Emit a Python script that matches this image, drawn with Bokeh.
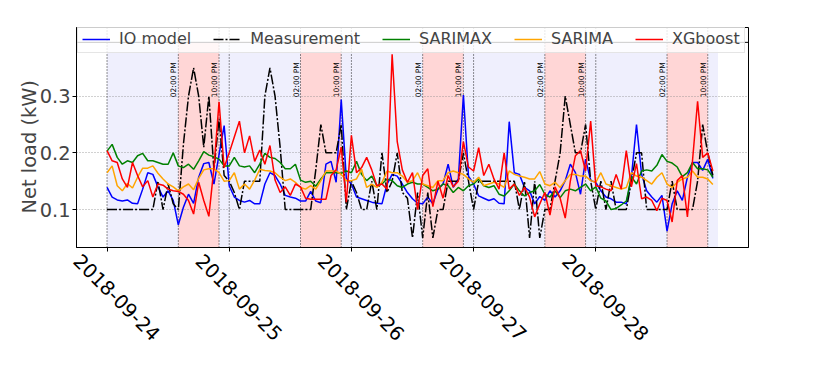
import math
import pandas as pd
from bokeh.plotting import figure
from bokeh.models import (Range1d, FixedTicker, Span, BoxAnnotation, Label,
                          Legend, LegendItem, ColumnDataSource, Grid, DatetimeAxis)
from bokeh.embed import file_html
from bokeh.resources import INLINE

# ---------------- data ----------------
start_time = "2018-09-24 00:00"
n_days = 5
day_labels = ["2018-09-24", "2018-09-25", "2018-09-26", "2018-09-27", "2018-09-28"]
peak_start_hour = 14
peak_end_hour = 22
peak_start_text = "02:00 PM"
peak_end_text = "10:00 PM"
y_ticks = [0.1, 0.2, 0.3]
y_title = "Net load (kW)"

io_model = [
    0.139, 0.122, 0.117, 0.115, 0.117, 0.111, 0.110, 0.136, 0.165, 0.162, 0.140, 0.122,
    0.133, 0.116, 0.073, 0.104, 0.127, 0.111, 0.157, 0.181, 0.183, 0.145, 0.197, 0.248,
    0.142, 0.122, 0.116, 0.113, 0.116, 0.110, 0.110, 0.145, 0.165, 0.160, 0.145, 0.125,
    0.122, 0.120, 0.115, 0.115, 0.132, 0.115, 0.112, 0.180, 0.185, 0.148, 0.294, 0.155,
    0.145, 0.122, 0.119, 0.116, 0.113, 0.111, 0.110, 0.145, 0.162, 0.159, 0.145, 0.130,
    0.119, 0.111, 0.110, 0.122, 0.110, 0.136, 0.145, 0.180, 0.139, 0.154, 0.302, 0.159,
    0.145, 0.124, 0.120, 0.116, 0.119, 0.111, 0.110, 0.255, 0.165, 0.162, 0.139, 0.133,
    0.110, 0.123, 0.116, 0.133, 0.122, 0.133, 0.151, 0.180, 0.165, 0.127, 0.189, 0.151,
    0.148, 0.133, 0.122, 0.119, 0.113, 0.113, 0.110, 0.157, 0.250, 0.162, 0.133, 0.122,
    0.113, 0.125, 0.062, 0.110, 0.133, 0.116, 0.157, 0.183, 0.183, 0.169, 0.189, 0.155,
]
measurement = [
    0.10, 0.10, 0.10, 0.10, 0.10, 0.10, 0.10, 0.10, 0.10, 0.10, 0.15, 0.10,
    0.145, 0.11, 0.10, 0.215, 0.30, 0.35, 0.30, 0.21, 0.30, 0.17, 0.26, 0.16,
    0.15, 0.13, 0.10, 0.15, 0.15, 0.15, 0.15, 0.30, 0.35, 0.30, 0.21, 0.10,
    0.10, 0.10, 0.10, 0.10, 0.10, 0.17, 0.25, 0.20, 0.20, 0.20, 0.25, 0.10,
    0.15, 0.13, 0.10, 0.10, 0.15, 0.10, 0.20, 0.13, 0.15, 0.20, 0.13, 0.12,
    0.05, 0.13, 0.05, 0.13, 0.05, 0.10, 0.10, 0.15, 0.15, 0.15, 0.20, 0.15,
    0.10, 0.15, 0.15, 0.15, 0.15, 0.15, 0.15, 0.15, 0.15, 0.10, 0.15, 0.05,
    0.15, 0.05, 0.10, 0.10, 0.15, 0.20, 0.30, 0.25, 0.20, 0.20, 0.25, 0.15,
    0.10, 0.15, 0.10, 0.15, 0.10, 0.10, 0.10, 0.15, 0.20, 0.20, 0.10, 0.10,
    0.10, 0.10, 0.10, 0.15, 0.10, 0.10, 0.10, 0.10, 0.15, 0.25, 0.20, 0.16,
]
sarimax = [
    0.203, 0.215, 0.192, 0.180, 0.186, 0.183, 0.195, 0.199, 0.186, 0.186, 0.183, 0.180,
    0.180, 0.200, 0.177, 0.174, 0.180, 0.171, 0.186, 0.202, 0.196, 0.193, 0.189, 0.177,
    0.177, 0.192, 0.177, 0.175, 0.177, 0.165, 0.180, 0.199, 0.192, 0.190, 0.183, 0.172,
    0.172, 0.180, 0.152, 0.148, 0.150, 0.141, 0.154, 0.165, 0.165, 0.165, 0.164, 0.168,
    0.165, 0.185, 0.162, 0.151, 0.159, 0.142, 0.145, 0.154, 0.151, 0.142, 0.139, 0.145,
    0.148, 0.145, 0.145, 0.139, 0.133, 0.136, 0.145, 0.142, 0.130, 0.139, 0.133, 0.142,
    0.145, 0.154, 0.142, 0.139, 0.142, 0.127, 0.124, 0.133, 0.145, 0.133, 0.124, 0.130,
    0.133, 0.144, 0.127, 0.122, 0.133, 0.121, 0.133, 0.136, 0.133, 0.139, 0.145, 0.133,
    0.140, 0.120, 0.115, 0.100, 0.102, 0.108, 0.115, 0.158, 0.145, 0.168, 0.170, 0.168,
    0.178, 0.197, 0.185, 0.182, 0.175, 0.158, 0.165, 0.183, 0.172, 0.172, 0.170, 0.157,
]
sarima = [
    0.165, 0.177, 0.142, 0.133, 0.146, 0.138, 0.157, 0.173, 0.173, 0.177, 0.164, 0.154,
    0.145, 0.140, 0.133, 0.140, 0.145, 0.135, 0.155, 0.170, 0.172, 0.172, 0.165, 0.150,
    0.151, 0.165, 0.136, 0.145, 0.136, 0.152, 0.171, 0.169, 0.168, 0.165, 0.157, 0.151,
    0.154, 0.148, 0.139, 0.136, 0.142, 0.136, 0.151, 0.168, 0.168, 0.168, 0.162, 0.151,
    0.151, 0.154, 0.171, 0.139, 0.145, 0.139, 0.148, 0.168, 0.165, 0.165, 0.159, 0.148,
    0.151, 0.165, 0.145, 0.142, 0.139, 0.151, 0.151, 0.165, 0.168, 0.165, 0.162, 0.154,
    0.148, 0.157, 0.142, 0.145, 0.148, 0.145, 0.139, 0.168, 0.162, 0.159, 0.157, 0.154,
    0.154, 0.167, 0.145, 0.142, 0.148, 0.139, 0.151, 0.162, 0.162, 0.159, 0.159, 0.151,
    0.148, 0.165, 0.145, 0.142, 0.139, 0.136, 0.139, 0.165, 0.159, 0.157, 0.151, 0.145,
    0.157, 0.165, 0.145, 0.139, 0.148, 0.154, 0.157, 0.168, 0.157, 0.157, 0.154, 0.144,
]
xgboost = [
    0.204, 0.186, 0.183, 0.154, 0.139, 0.183, 0.160, 0.140, 0.151, 0.122, 0.145, 0.143,
    0.136, 0.133, 0.132, 0.127, 0.116, 0.092, 0.148, 0.116, 0.088, 0.174, 0.290, 0.174,
    0.200, 0.228, 0.256, 0.200, 0.230, 0.185, 0.205, 0.180, 0.213, 0.152, 0.130, 0.140,
    0.125, 0.145, 0.140, 0.120, 0.118, 0.118, 0.118, 0.118, 0.160, 0.170, 0.210, 0.113,
    0.231, 0.165, 0.174, 0.192, 0.170, 0.142, 0.145, 0.136, 0.374, 0.220, 0.170, 0.148,
    0.165, 0.100, 0.160, 0.172, 0.105, 0.150, 0.120, 0.160, 0.140, 0.150, 0.220, 0.175,
    0.168, 0.209, 0.160, 0.180, 0.154, 0.136, 0.200, 0.136, 0.145, 0.125, 0.139, 0.122,
    0.087, 0.110, 0.130, 0.090, 0.140, 0.120, 0.085, 0.150, 0.195, 0.204, 0.168, 0.256,
    0.142, 0.140, 0.136, 0.133, 0.162, 0.136, 0.204, 0.140, 0.181, 0.119, 0.122, 0.116,
    0.098, 0.120, 0.116, 0.078, 0.151, 0.160, 0.087, 0.186, 0.291, 0.192, 0.200, 0.168,
]

series_names = ["IO model", "Measurement", "SARIMAX", "SARIMA", "XGboost"]

# ---------------- styles ----------------
FONT = "DejaVu Sans"
series_styles = [
    dict(color="#0000ff", dash="solid"),
    dict(color="#000000", dash="10 2 2 2"),
    dict(color="#008000", dash="solid"),
    dict(color="#ffa500", dash="solid"),
    dict(color="#ff0000", dash="solid"),
]
Y_START, Y_PLOT_TOP = 0.033, 0.395   # visible data area
Y_FRAME_TOP = 0.4212                  # frame reaches up under the legend strip
HOUR_LABEL_Y = 0.36
DATE_LABEL_SHIFT_HOURS = 5.9          # rotated date labels sit under their tick
TITLE_PAD = "\u00a0\u00a0\u00a0"      # keeps the y title centred on the data area


def ms(ts):
    return pd.Timestamp(ts).value / 1e6


times = pd.date_range(start_time, periods=len(io_model), freq="h")
day_starts = pd.date_range(start_time, periods=n_days, freq="D")
shade_start = ms(day_starts[0])
shade_end = ms(day_starts[-1] + pd.Timedelta(days=1))
pad = 0.05 * (shade_end - shade_start)

source = ColumnDataSource(dict(t=times, io=io_model, meas=measurement,
                               sx=sarimax, sa=sarima, xg=xgboost))

p = figure(width=806, height=350, x_axis_type="datetime",
           x_range=Range1d(shade_start - pad, shade_end + pad),
           y_range=Range1d(Y_START, Y_FRAME_TOP),
           output_backend="svg", toolbar_location=None,
           min_border_left=76, min_border_right=58,
           min_border_top=27, min_border_bottom=101)
p.background_fill_color = "white"
p.border_fill_color = "white"
p.outline_line_color = "black"
p.outline_line_width = 1

# shading
boxes = [BoxAnnotation(left=shade_start, right=shade_end, top=Y_PLOT_TOP,
                       fill_color="#efeffd", fill_alpha=1.0, line_color=None,
                       level="underlay")]
for d in day_starts:
    boxes.append(BoxAnnotation(left=ms(d + pd.Timedelta(hours=peak_start_hour)),
                               right=ms(d + pd.Timedelta(hours=peak_end_hour)),
                               top=Y_PLOT_TOP, fill_color="#ffd6d6", fill_alpha=1.0,
                               line_color=None, level="underlay"))

spans = [Span(location=Y_PLOT_TOP, dimension="width", line_color="black",
              line_width=1, level="underlay")]
labels = []
for d in day_starts:
    spans.append(Span(location=ms(d), dimension="height", line_color="#222222",
                      line_width=1, line_dash="1 2", level="underlay"))
    for hr, txt in ((peak_start_hour, peak_start_text), (peak_end_hour, peak_end_text)):
        loc = ms(d + pd.Timedelta(hours=hr))
        spans.append(Span(location=loc, dimension="height", line_color="#222222",
                          line_width=1, line_dash="1 2", level="underlay"))
        labels.append(Label(x=loc, y=HOUR_LABEL_Y, text=txt, angle=math.pi / 2,
                            text_align="right", text_baseline="bottom",
                            text_font=FONT, text_font_size="7.5px",
                            text_color="black"))

# lines
cols = ["io", "meas", "sx", "sa", "xg"]
rends = []
for c, st in zip(cols, series_styles):
    r = p.line("t", c, source=source, line_color=st["color"], line_width=1.5,
               line_dash=st["dash"])
    rends.append(r)

# grid
p.xgrid.visible = False
p.ygrid.ticker = FixedTicker(ticks=y_ticks)
p.ygrid.grid_line_color = "#8a8a8a"
p.ygrid.grid_line_dash = "1 2"
p.ygrid.grid_line_width = 0.8

grids = [r for r in p.center if isinstance(r, Grid)]
others = [r for r in p.center if not isinstance(r, Grid)]
p.center = boxes + grids + spans + others + labels

# axes
p.yaxis.ticker = FixedTicker(ticks=y_ticks)
p.yaxis.axis_label = y_title + TITLE_PAD
p.yaxis.axis_label_text_font = FONT
p.yaxis.axis_label_text_font_size = "19.4px"
p.yaxis.axis_label_text_font_style = "normal"
p.yaxis.axis_label_standoff = -4
p.yaxis.major_label_text_font = FONT
p.yaxis.major_label_text_font_size = "19.4px"
p.yaxis.major_label_standoff = 2
p.xaxis.ticker = FixedTicker(ticks=[ms(d) for d in day_starts])
p.xaxis.major_label_text_color = None
p.xaxis.major_label_text_font_size = "0px"
p.xaxis.major_label_standoff = 0
for ax in (p.xaxis, p.yaxis):
    ax.axis_line_color = "black"
    ax.major_tick_line_color = "black"
    ax.major_tick_out = 4
    ax.major_tick_in = 0
    ax.minor_tick_line_color = None

# date labels: second axis without line/ticks
shift = DATE_LABEL_SHIFT_HOURS * 3600 * 1000
label_ticks = [ms(d) - shift for d in day_starts]
date_axis = DatetimeAxis(ticker=FixedTicker(ticks=label_ticks),
                         major_label_overrides={t: lab for t, lab in zip(label_ticks, day_labels)},
                         major_label_orientation=-math.pi / 4,
                         major_label_text_font=FONT, major_label_text_font_size="19.4px",
                         major_label_text_color="black", major_label_standoff=0,
                         axis_line_color=None, major_tick_line_color=None,
                         minor_tick_line_color=None)
p.add_layout(date_axis, "below")

legend = Legend(items=[LegendItem(label=n, renderers=[r]) for n, r in zip(series_names, rends)],
                orientation="horizontal", location=(1, 194), margin=0,
                padding=4, spacing=22, glyph_width=28, glyph_height=18,
                label_standoff=9, label_height=18,
                label_text_font=FONT, label_text_font_size="16px",
                border_line_color="#cccccc", border_line_width=1,
                background_fill_color="white", background_fill_alpha=0.8)
p.add_layout(legend, "center")

open("out.html", "w").write(file_html(p, INLINE))
